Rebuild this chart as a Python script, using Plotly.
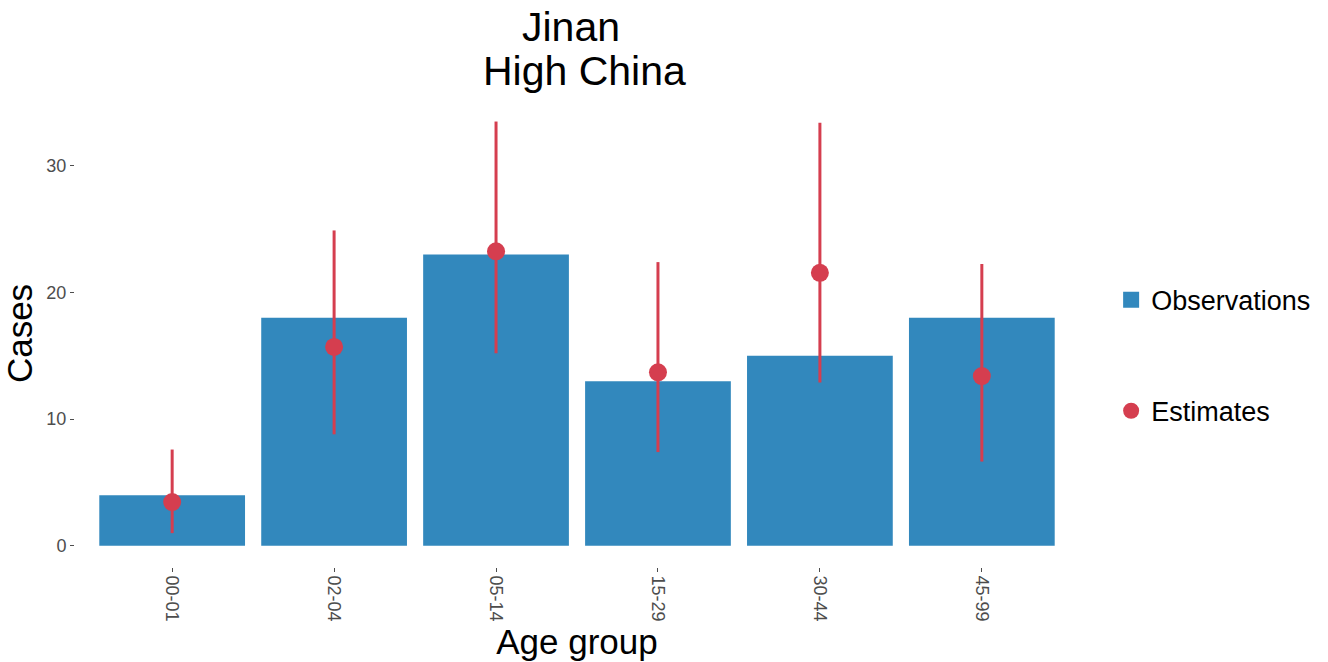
import plotly.graph_objects as go

age_groups = ["00-01", "02-04", "05-14", "15-29", "30-44", "45-99"]
observations = [4, 18, 23, 13, 15, 18]
estimates = [3.45, 15.7, 23.25, 13.7, 21.55, 13.4]
est_lower = [1.0, 8.8, 15.2, 7.4, 12.9, 6.65]
est_upper = [7.6, 24.9, 33.5, 22.4, 33.4, 22.25]
y_ticks = [0, 10, 20, 30]
title_lines = ["Jinan", "High China"]

blue = "#3288BD"
red = "#D53E4F"

fig = go.Figure()
fig.add_trace(go.Bar(
    x=age_groups, y=observations, name="Observations",
    marker=dict(color=blue, line=dict(width=0)), width=0.9,
    showlegend=False,
))
# legend key for the bars (square, like the reference)
fig.add_trace(go.Scatter(
    x=[None], y=[None], name="Observations", mode="markers",
    marker=dict(color=blue, symbol="square", size=24),
    legendgroup="obs",
))
fig.add_trace(go.Scatter(
    x=age_groups, y=estimates, name="Estimates", mode="markers",
    marker=dict(color=red, size=18),
    error_y=dict(type="data", symmetric=False,
                 array=[u - m for u, m in zip(est_upper, estimates)],
                 arrayminus=[m - l for m, l in zip(estimates, est_lower)],
                 color=red, thickness=3, width=0),
    legendgroup="est",
))

# plot area at screen x 75..1081, y 100..567 (body margin removed below)
fig.update_layout(
    width=1328, height=662,
    margin=dict(l=75, r=247, t=100, b=95),
    paper_bgcolor="white", plot_bgcolor="white",
    font=dict(family="Liberation Sans, Arial, sans-serif", color="black"),
    showlegend=True,
    legend=dict(x=1.032, xanchor="left", y=0.624, yanchor="top",
                font=dict(size=27, color="black"), tracegroupgap=73,
                bgcolor="rgba(0,0,0,0)", itemsizing="trace"),
    bargap=0.1,
    annotations=[
        dict(text=title_lines[0], xref="paper", yref="paper", x=0.494, xanchor="center",
             y=1 + (100 - 27) / 467, yanchor="middle", showarrow=False, borderpad=0,
             font=dict(size=41, color="black")),
        dict(text=title_lines[1], xref="paper", yref="paper", x=0.507, xanchor="center",
             y=1 + (100 - 71) / 467, yanchor="middle", showarrow=False, borderpad=0,
             font=dict(size=41, color="black")),
    ],
)
fig.update_xaxes(
    type="category", range=[-0.6, 5.6], tickangle=90, showgrid=False, zeroline=False,
    ticks="outside", ticklen=4, tickcolor="#4d4d4d",
    tickfont=dict(size=18, color="#4d4d4d"),
    title=dict(text="Age group", font=dict(size=35, color="black"), standoff=4),
    showline=False, automargin=False,
)
fig.update_yaxes(
    range=[-1.675, 35.2], tickvals=y_ticks, showgrid=False, zeroline=False,
    ticks="outside", ticklen=4, tickcolor="#4d4d4d",
    tickfont=dict(size=18, color="#4d4d4d"),
    title=dict(text="Cases", font=dict(size=35, color="black"), standoff=7),
    showline=False, automargin=False,
)

fig.write_html("out.html", config={"displayModeBar": False},
               post_script="document.body.style.margin='0';")
